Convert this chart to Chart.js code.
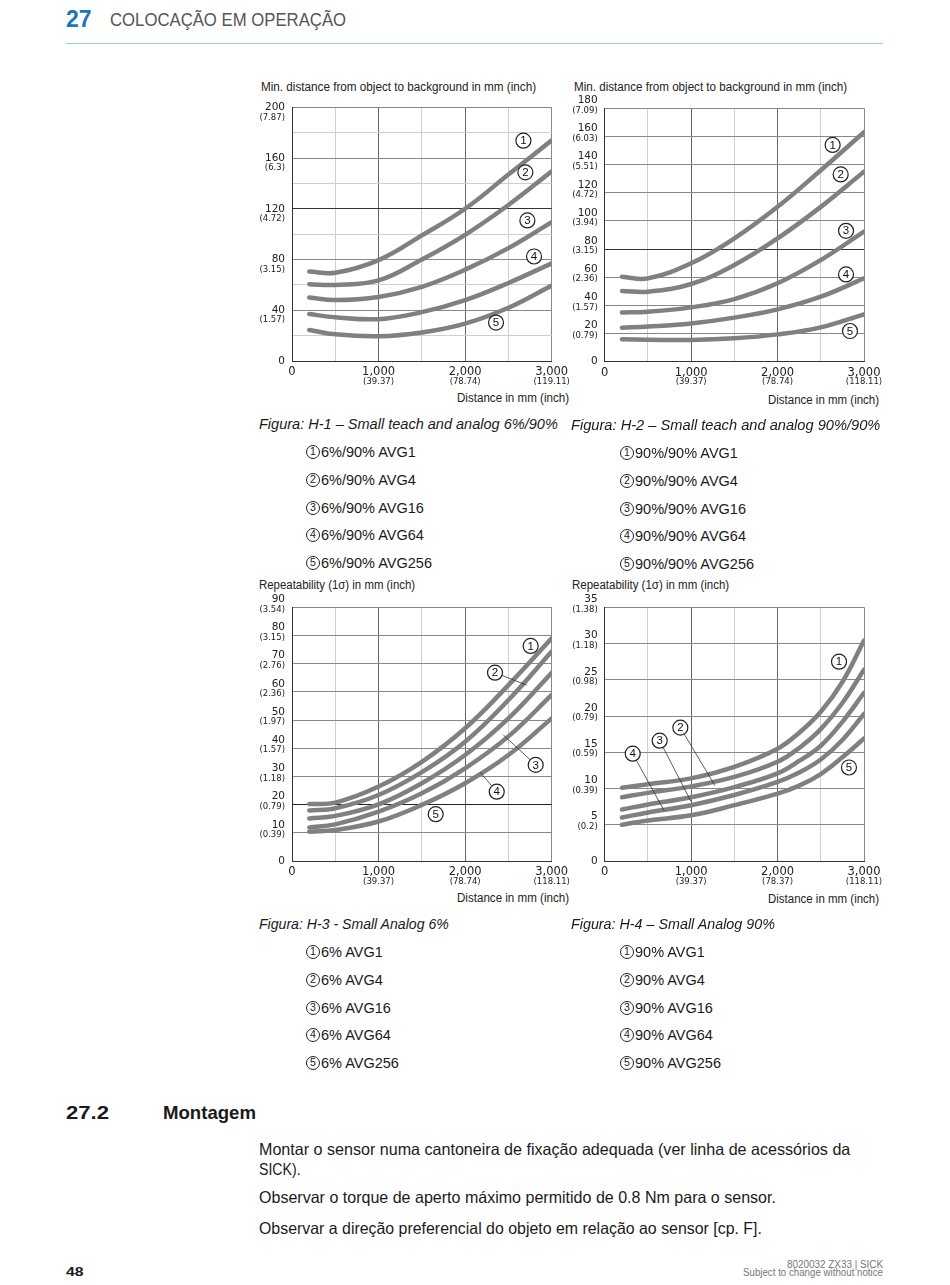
<!DOCTYPE html>
<html lang="pt">
<head>
<meta charset="UTF-8">
<title>Colocação em operação</title>
<script src="https://cdn.jsdelivr.net/npm/chart.js"></script>
<style>
  body { margin:0; width:950px; height:1285px; position:relative; overflow:hidden; background:#fff; color:#1a1a1a;
         font-family:"Liberation Sans",Arial,sans-serif; }
  .t { position:absolute; white-space:nowrap; line-height:1; transform-origin:left center; }
  .r { transform-origin:right center; }
  .ax { font-size:12px; color:#222; }
  .cap { font-size:15.5px; font-style:italic; }
  .leg { font-size:14.5px; line-height:16px; }
  .leg span { display:inline-block; box-sizing:border-box; width:14px; height:14px; border:1.2px solid #222; border-radius:50%;
              font-size:10.5px; line-height:11.5px; text-align:center; vertical-align:top; margin-top:1px; margin-right:1px; }
  .body { font-size:16.5px; }
  .box { position:absolute; }
</style>
</head>
<body>
  <!-- header -->
  <div class="t" style="left:66px;top:8px;font-size:23px;font-weight:bold;color:#1a75bb;" data-w="26">27</div>
  <div class="t" style="left:110px;top:11px;font-size:18px;color:#555;" data-w="236">COLOCAÇÃO EM OPERAÇÃO</div>
  <div style="position:absolute;left:66px;top:43px;width:817px;height:1px;background:#9ccbe8;"></div>

  <!-- axis titles -->
  <div class="t ax" style="left:261px;top:81px;" data-w="275">Min. distance from object to background in mm (inch)</div>
  <div class="t ax r" style="right:381px;top:392px;" data-w="112">Distance in mm (inch)</div>
  <div class="t ax" style="left:574px;top:81px;" data-w="273">Min. distance from object to background in mm (inch)</div>
  <div class="t ax r" style="right:71px;top:394px;" data-w="111">Distance in mm (inch)</div>
  <div class="t ax" style="left:259px;top:579px;" data-w="156">Repeatability (1σ) in mm (inch)</div>
  <div class="t ax r" style="right:381px;top:892px;" data-w="112">Distance in mm (inch)</div>
  <div class="t ax" style="left:572px;top:579px;" data-w="157">Repeatability (1σ) in mm (inch)</div>
  <div class="t ax r" style="right:71px;top:893px;" data-w="111">Distance in mm (inch)</div>

  <!-- charts -->
  <div class="box" id="b1"><canvas id="c1"></canvas></div>
  <div class="box" id="b2"><canvas id="c2"></canvas></div>
  <div class="box" id="b3"><canvas id="c3"></canvas></div>
  <div class="box" id="b4"><canvas id="c4"></canvas></div>

  <!-- captions -->
  <div class="t cap" style="left:259px;top:416px;" data-w="299">Figura: H-1 – Small teach and analog 6%/90%</div>
  <div class="t cap" style="left:571px;top:417px;" data-w="309">Figura: H-2 – Small teach and analog 90%/90%</div>
  <div class="t cap" style="left:259px;top:916px;" data-w="190">Figura: H-3 - Small Analog 6%</div>
  <div class="t cap" style="left:571px;top:916px;" data-w="204">Figura: H-4 – Small Analog 90%</div>
  <div id="legends"></div>

  <!-- section 27.2 -->
  <div class="t" style="left:66px;top:1103px;font-size:19px;font-weight:bold;" data-w="43">27.2</div>
  <div class="t" style="left:163px;top:1103px;font-size:19px;font-weight:bold;" data-w="93">Montagem</div>
  <div class="t body" style="left:259px;top:1141px;" data-w="591">Montar o sensor numa cantoneira de fixação adequada (ver linha de acessórios da</div>
  <div class="t body" style="left:259px;top:1161px;" data-w="42">SICK).</div>
  <div class="t body" style="left:259px;top:1189px;" data-w="517">Observar o torque de aperto máximo permitido de 0.8 Nm para o sensor.</div>
  <div class="t body" style="left:259px;top:1220px;" data-w="503">Observar a direção preferencial do objeto em relação ao sensor [cp. F].</div>

  <!-- footer -->
  <div class="t" style="left:66px;top:1265px;font-size:13px;font-weight:bold;" data-w="17">48</div>
  <div class="t r" style="right:67px;top:1260px;font-size:10px;color:#777;" data-w="96">8020032 ZX33 | SICK</div>
  <div class="t r" style="right:67px;top:1268px;font-size:10px;color:#777;" data-w="140">Subject to change without notice</div>

<script>
// distance in mm
const xDist = [200, 500, 1000, 1500, 2000, 2500, 3000];
const xDist4 = [200, 500, 1000, 1500, 2000, 2250, 2500, 2750, 3000];

// H-1 min. distance to background, 6%/90%
const h1Avg1   = [70.5, 69.5, 79.5, 99, 120, 147, 174];
const h1Avg4   = [60.5, 60, 63.5, 80, 99.5, 123, 149.5];
const h1Avg16  = [50, 48, 50.5, 58.5, 72, 89, 109.5];
const h1Avg64  = [37, 34.5, 33, 38.5, 48, 61.5, 77];
const h1Avg256 = [24.5, 21, 19.5, 22.5, 29.5, 42, 59.5];

// H-2 min. distance to background, 90%/90%
const h2Avg1   = [60.4, 59.2, 69.9, 87.6, 110, 136, 163];
const h2Avg4   = [50.2, 49.7, 55.2, 68.7, 87.6, 110, 135];
const h2Avg16  = [35, 35.5, 38.6, 44.5, 55.7, 72.2, 92.4];
const h2Avg64  = [24.2, 25, 27.2, 31.3, 37.2, 46.2, 59.2];
const h2Avg256 = [15.9, 15.6, 15.4, 16.6, 19.4, 24.4, 33.6];

// H-3 repeatability, 6%
const h3Avg1   = [20.2, 20.7, 26.4, 35.2, 47.1, 62.4, 79];
const h3Avg4   = [17.9, 18.7, 23.4, 31.5, 42.3, 57.1, 74.3];
const h3Avg16  = [15.1, 16, 20.1, 27.6, 37.6, 50.6, 66.8];
const h3Avg64  = [11.9, 13, 17.5, 24, 32.9, 44.2, 58.9];
const h3Avg256 = [10.4, 11, 14, 19.9, 27.6, 37.6, 50.6];

// H-4 repeatability, 90%
const h4Avg1   = [10.1, 10.6, 11.4, 13, 15.5, 17.7, 20.6, 24.7, 30.4];
const h4Avg4   = [8.8, 9.4, 10.3, 11.6, 13.7, 15.6, 18.2, 21.8, 26.4];
const h4Avg16  = [7.1, 7.8, 8.8, 10.2, 12.1, 13.8, 15.9, 19.2, 23.2];
const h4Avg64  = [6, 6.7, 7.7, 9.1, 10.9, 12.2, 14, 16.7, 20.3];
const h4Avg256 = [5, 5.6, 6.3, 7.7, 9.3, 10.4, 12, 14.3, 16.9];

// tick labels: value, mm, inch
const xTicks1 = [[0, '0'], [1000, '1,000', '(39.37)'], [2000, '2,000', '(78.74)'], [3000, '3,000', '(119.11)']];
const xTicks2 = [[0, '0'], [1000, '1,000', '(39.37)'], [2000, '2,000', '(78.74)'], [3000, '3,000', '(118.11)']];
const xTicks4 = [[0, '0'], [1000, '1,000', '(39.37)'], [2000, '2,000', '(78.37)'], [3000, '3,000', '(118.11)']];
const yTicks1 = [[0, '0'], [40, '40', '(1.57)'], [80, '80', '(3.15)'], [120, '120', '(4.72)'], [160, '160', '(6.3)'], [200, '200', '(7.87)']];
const yTicks2 = [[0, '0'], [20, '20', '(0.79)'], [40, '40', '(1.57)'], [60, '60', '(2.36)'], [80, '80', '(3.15)'], [100, '100', '(3.94)'],
                 [120, '120', '(4.72)'], [140, '140', '(5.51)'], [160, '160', '(6.03)'], [180, '180', '(7.09)']];
const yTicks3 = [[0, '0'], [10, '10', '(0.39)'], [20, '20', '(0.79)'], [30, '30', '(1.18)'], [40, '40', '(1.57)'], [50, '50', '(1.97)'],
                 [60, '60', '(2.36)'], [70, '70', '(2.76)'], [80, '80', '(3.15)'], [90, '90', '(3.54)']];
const yTicks4 = [[0, '0'], [5, '5', '(0.2)'], [10, '10', '(0.39)'], [15, '15', '(0.59)'], [20, '20', '(0.79)'], [25, '25', '(0.98)'],
                 [30, '30', '(1.18)'], [35, '35', '(1.38)']];

// legend texts
const legend1 = ['6%/90% AVG1', '6%/90% AVG4', '6%/90% AVG16', '6%/90% AVG64', '6%/90% AVG256'];
const legend2 = ['90%/90% AVG1', '90%/90% AVG4', '90%/90% AVG16', '90%/90% AVG64', '90%/90% AVG256'];
const legend3 = ['6% AVG1', '6% AVG4', '6% AVG16', '6% AVG64', '6% AVG256'];
const legend4 = ['90% AVG1', '90% AVG4', '90% AVG16', '90% AVG64', '90% AVG256'];
const curveNo = ['1', '2', '3', '4', '5'];

// circled curve numbers (in data units), optional leader line end
const marks1 = [['1', 2673, 173.7], ['2', 2696, 148.7], ['3', 2719, 110.8], ['4', 2796, 82.4], ['5', 2357, 30.3]];
const marks2 = [['1', 2637, 154], ['2', 2730, 133], ['3', 2792, 93], ['4', 2792, 62], ['5', 2838, 21.8]];
const marks3 = [['1', 2757, 76.3], ['2', 2345, 66.8, 2711, 62.4], ['3', 2815, 34.1, 2442, 44.7], ['4', 2365, 24.6, 2172, 31.5], ['5', 1660, 16.6]];
const marks4 = [['1', 2711, 27.5], ['2', 875, 18.4, 1276, 10.4], ['3', 636, 16.6, 999, 8.2], ['4', 324, 14.8, 690, 6.9], ['5', 2826, 12.9]];

// legends under the figures
const legendBlocks = [
  [legend1, 306, 452], [legend2, 620, 453], [legend3, 306, 952], [legend4, 620, 952]
];
const legDiv = document.getElementById('legends');
legendBlocks.forEach(([names, left, top]) => {
  names.forEach((n, i) => {
    const d = document.createElement('div');
    d.className = 't leg';
    d.style.left = left + 'px';
    d.style.top = (top - 8 + i * 27.8) + 'px';
    const s = document.createElement('span');
    s.textContent = curveNo[i];
    d.appendChild(s);
    d.appendChild(document.createTextNode(n));
    legDiv.appendChild(d);
  });
});

// squeeze text to the widths of the printed page
document.querySelectorAll('[data-w]').forEach(el => {
  el.style.transform = 'scaleX(' + (el.dataset.w / el.offsetWidth) + ')';
});

const tickFont = '"DejaVu Sans", sans-serif';

// draws tick labels and curve numbers from the scales
const pageText = {
  id: 'pageText',
  afterDraw(chart, args, o) {
    const { ctx, chartArea: a, scales: { x, y } } = chart;
    ctx.save();
    ctx.fillStyle = '#222';
    ctx.textAlign = 'right';
    ctx.textBaseline = 'middle';
    o.yTicks.forEach(([v, main, sub]) => {
      const py = y.getPixelForValue(v) + (sub ? o.yShift : 0);
      ctx.font = '10.5px ' + tickFont;
      ctx.fillText(main, a.left - 7, py);
      if (sub) {
        ctx.font = '8.5px ' + tickFont;
        ctx.fillText(sub, a.left - 7, py + 10);
      }
    });
    ctx.textAlign = 'center';
    o.xTicks.forEach(([v, main, sub]) => {
      const px = x.getPixelForValue(v);
      ctx.font = '11.5px ' + tickFont;
      ctx.fillText(main, px, a.bottom + 11.5);
      if (sub) {
        ctx.font = '8.5px ' + tickFont;
        ctx.fillText(sub, px, a.bottom + 20.5);
      }
    });
    o.marks.forEach(([n, mx, my, lx, ly]) => {
      const cx = x.getPixelForValue(mx), cy = y.getPixelForValue(my);
      if (lx !== undefined) {
        const ex = x.getPixelForValue(lx), ey = y.getPixelForValue(ly);
        const d = Math.hypot(ex - cx, ey - cy);
        ctx.beginPath();
        ctx.moveTo(cx + (ex - cx) / d * 7.5, cy + (ey - cy) / d * 7.5);
        ctx.lineTo(ex, ey);
        ctx.strokeStyle = '#333';
        ctx.lineWidth = 0.8;
        ctx.stroke();
      }
      ctx.beginPath();
      ctx.arc(cx, cy, 7.5, 0, Math.PI * 2);
      ctx.fillStyle = '#fff';
      ctx.fill();
      ctx.strokeStyle = '#222';
      ctx.lineWidth = 1.2;
      ctx.stroke();
      ctx.fillStyle = '#111';
      ctx.font = '11.5px "Liberation Sans", sans-serif';
      ctx.fillText(n, cx, cy + 0.5);
    });
    ctx.restore();
  }
};

function makeChart(id, box, plot, xs, curves, yMax, yStep, yColor, opts) {
  const wrap = document.getElementById('b' + id);
  Object.assign(wrap.style, { left: box.l + 'px', top: box.t + 'px', width: box.w + 'px', height: box.h + 'px' });
  return new Chart(document.getElementById('c' + id), {
    type: 'line',
    data: {
      datasets: curves.map(c => ({
        data: xs.map((x, i) => ({ x, y: c[i] })),
        borderColor: '#808080',
        borderWidth: 4.5,
        pointRadius: 0,
        tension: 0.4,
        borderCapStyle: 'round',
        fill: false
      }))
    },
    options: {
      responsive: true,
      maintainAspectRatio: false,
      animation: false,
      layout: {
        padding: {
          left: plot.l - box.l, top: plot.t - box.t,
          right: box.l + box.w - plot.r, bottom: box.t + box.h - plot.b
        }
      },
      plugins: { legend: { display: false }, tooltip: { enabled: false }, pageText: opts },
      scales: {
        x: {
          type: 'linear', min: 0, max: 3000,
          ticks: { display: false, stepSize: 500 },
          grid: { drawTicks: false, color: c => c.tick.value === 3000 ? '#888' : (c.tick.value % 1000 === 0 ? '#666' : '#cfcfcf') },
          border: { color: '#333' },
          afterFit: s => { s.height = 0; }
        },
        y: {
          min: 0, max: yMax,
          ticks: { display: false, stepSize: yStep },
          grid: { drawTicks: false, color: c => yColor(c.tick.value) },
          border: { color: '#333' },
          afterFit: s => { s.width = 0; }
        }
      }
    },
    plugins: [pageText]
  });
}

makeChart(1, { l: 245, t: 90, w: 330, h: 305 }, { l: 292, t: 107.3, r: 551.7, b: 361 }, xDist,
  [h1Avg1, h1Avg4, h1Avg16, h1Avg64, h1Avg256], 200, 20,
  v => v === 120 ? '#333' : (v % 40 === 0 ? '#888' : '#cfcfcf'),
  { yTicks: yTicks1, xTicks: xTicks1, yShift: 0, marks: marks1 });

makeChart(2, { l: 557, t: 90, w: 330, h: 305 }, { l: 604.7, t: 108.3, r: 864, b: 361.7 }, xDist,
  [h2Avg1, h2Avg4, h2Avg16, h2Avg64, h2Avg256], 180, 20,
  v => v === 80 ? '#333' : '#888',
  { yTicks: yTicks2, xTicks: xTicks2, yShift: -8, marks: marks2 });

makeChart(3, { l: 245, t: 590, w: 330, h: 305 }, { l: 292, t: 607.3, r: 551.7, b: 861 }, xDist,
  [h3Avg1, h3Avg4, h3Avg16, h3Avg64, h3Avg256], 90, 10,
  v => v === 20 ? '#222' : '#888',
  { yTicks: yTicks3, xTicks: xTicks2, yShift: -8, marks: marks3 });

makeChart(4, { l: 557, t: 590, w: 330, h: 305 }, { l: 604.7, t: 607.3, r: 864, b: 861 }, xDist4,
  [h4Avg1, h4Avg4, h4Avg16, h4Avg64, h4Avg256], 35, 5,
  v => '#888',
  { yTicks: yTicks4, xTicks: xTicks4, yShift: -8, marks: marks4 });
</script>
</body>
</html>
